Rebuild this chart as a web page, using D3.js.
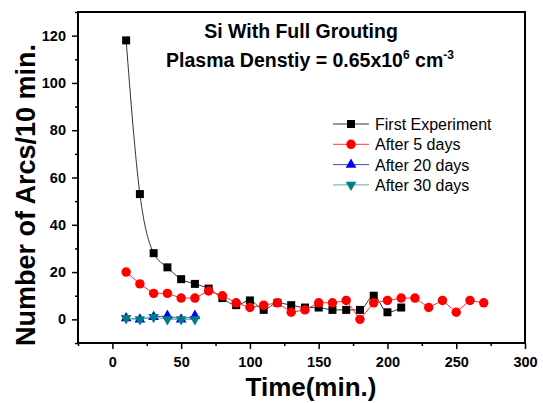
<!DOCTYPE html>
<html>
<head>
<meta charset="utf-8">
<script src="https://cdn.jsdelivr.net/npm/d3@7"></script>
<style>
  body { margin: 0; background: #fff; }
  text { font-family: Arial, "Liberation Sans", sans-serif; }
</style>
</head>
<body>
<svg id="chart"></svg>
<script>
// values
let timeFirst = [10, 20, 30, 40, 50, 60, 70, 80, 90, 100, 110, 120, 130, 140, 150, 160, 170, 180, 190, 200, 210]
let firstExp = [118, 53, 28, 22, 17, 15, 13, 9, 6, 8, 4, 7, 6, 5, 5, 4, 4, 4, 10, 3, 5]

let time5 = [10, 20, 30, 40, 50, 60, 70, 80, 90, 100, 110, 120, 130, 140, 150, 160, 170, 180, 190, 200, 210, 220, 230, 240, 250, 260, 270]
let after5 = [20, 15, 11, 11, 9, 9, 12, 10, 7, 5, 6, 7, 3, 4, 7, 7, 8, 0, 7, 8, 9, 9, 5, 8, 3, 8, 7]

let timeShort = [10, 20, 30, 40, 50, 60]
let after20 = [0.5, 0, 1, 1.5, 0, 1.5]
let after30 = [0.5, 0, 1, 0, 0, 0]

let xTicks = [0, 50, 100, 150, 200, 250, 300]
let yTicks = [0, 20, 40, 60, 80, 100, 120]

let width = 543
let height = 403
let svg = d3.select('#chart').attr('width', width).attr('height', height)

let pLeft = 78, pRight = 525, pTop = 12, pBottom = 343

let x = d3.scaleLinear().domain([-25, 300]).range([pLeft, pRight])
let y = d3.scaleLinear().domain([-10, 130]).range([pBottom, pTop])

// axes
let xAxis = d3.axisBottom(x).tickValues(xTicks).tickSize(6).tickPadding(8)
let xMinor = d3.axisBottom(x).tickValues(d3.range(-25, 301, 50)).tickSize(3).tickFormat('')
let yAxis = d3.axisLeft(y).tickValues(yTicks).tickSize(6).tickPadding(6)
let yMinor = d3.axisLeft(y).tickValues(d3.range(-10, 131, 20)).tickSize(3).tickFormat('')

function styleAxis(g) {
    g.select('.domain').remove()
    g.selectAll('line').attr('stroke', '#000').attr('stroke-width', 1.5)
    g.selectAll('text').attr('font-size', 14.5).attr('font-weight', 'bold').attr('fill', '#000')
}

svg.append('g').attr('transform', `translate(0,${pBottom})`).call(xAxis).call(styleAxis)
svg.append('g').attr('transform', `translate(0,${pBottom})`).call(xMinor).call(styleAxis)
svg.append('g').attr('transform', `translate(${pLeft},0)`).call(yAxis).call(styleAxis)
svg.append('g').attr('transform', `translate(${pLeft},0)`).call(yMinor).call(styleAxis)

// frame
svg.append('rect')
    .attr('x', pLeft).attr('y', pTop)
    .attr('width', pRight - pLeft).attr('height', pBottom - pTop)
    .attr('fill', 'none').attr('stroke', '#000').attr('stroke-width', 2)

let series = [
    {name: 'First Experiment', xs: timeFirst, ys: firstExp, color: '#000', line: '#333', sym: d3.symbolSquare, size: 64, curve: d3.curveMonotoneX},
    {name: 'After 5 days', xs: time5, ys: after5, color: '#ff0000', line: '#ff3333', sym: d3.symbolCircle, size: 70, curve: d3.curveLinear},
    {name: 'After 20 days', xs: timeShort, ys: after20, color: '#0000ff', line: '#4444cc', sym: d3.symbolTriangle, size: 50, curve: d3.curveLinear},
    {name: 'After 30 days', xs: timeShort, ys: after30, color: '#007f7f', line: '#66aaaa', sym: d3.symbolTriangle, size: 50, curve: d3.curveLinear, flip: true}
]

series.forEach(s => {
    let pts = s.xs.map((t, i) => [t, s.ys[i]])
    let line = d3.line().x(d => x(d[0])).y(d => y(d[1])).curve(s.curve)
    svg.append('path').datum(pts)
        .attr('d', line)
        .attr('fill', 'none')
        .attr('stroke', s.line)
        .attr('stroke-width', 1)
    svg.append('g').selectAll('path')
        .data(pts)
        .enter().append('path')
        .attr('d', d3.symbol().type(s.sym).size(s.size))
        .attr('transform', d => `translate(${x(d[0])},${y(d[1])})` + (s.flip ? ' rotate(180)' : ''))
        .attr('fill', s.color)
})

// legend
let legend = svg.append('g')
series.forEach((s, i) => {
    let ly = 124 + i * 20.3
    legend.append('line')
        .attr('x1', 333).attr('x2', 369).attr('y1', ly).attr('y2', ly)
        .attr('stroke', s.line).attr('stroke-width', 1)
    legend.append('path')
        .attr('d', d3.symbol().type(s.sym).size(s.size))
        .attr('transform', `translate(351,${ly})` + (s.flip ? ' rotate(180)' : ''))
        .attr('fill', s.color)
    legend.append('text')
        .attr('x', 375).attr('y', ly + 6)
        .attr('font-size', 16)
        .text(s.name)
})

// titles
svg.append('text')
    .attr('x', 301).attr('y', 38)
    .attr('text-anchor', 'middle')
    .attr('font-size', 19.5).attr('font-weight', 'bold')
    .text('Si With Full Grouting')

let sub = svg.append('text')
    .attr('x', 310).attr('y', 67)
    .attr('text-anchor', 'middle')
    .attr('font-size', 19.5).attr('font-weight', 'bold')
sub.append('tspan').text('Plasma Denstiy = 0.65x10')
sub.append('tspan').attr('dy', -8).attr('font-size', 12).text('6')
sub.append('tspan').attr('dy', 8).text(' cm')
sub.append('tspan').attr('dy', -8).attr('font-size', 12).text('-3')

svg.append('text')
    .attr('x', 311).attr('y', 396)
    .attr('text-anchor', 'middle')
    .attr('font-size', 26).attr('font-weight', 'bold')
    .text('Time(min.)')

svg.append('text')
    .attr('transform', 'translate(35,195) rotate(-90)')
    .attr('text-anchor', 'middle')
    .attr('font-size', 27).attr('font-weight', 'bold')
    .text('Number of Arcs/10 min.')
</script>
</body>
</html>
